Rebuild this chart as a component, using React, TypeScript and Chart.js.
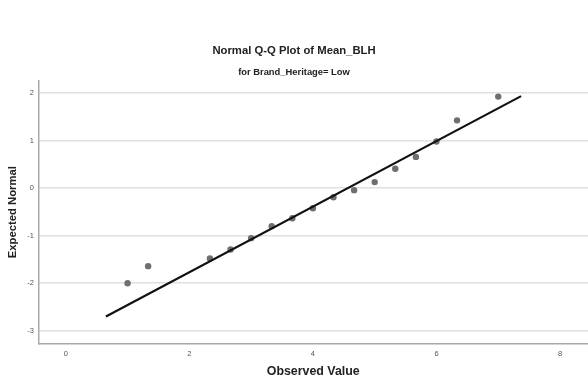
import React, { useEffect, useRef } from "react";
import { Chart, registerables } from "chart.js";

Chart.register(...registerables);

// Observed values of Mean_BLH (Brand_Heritage = Low) and their expected normal scores
const observedValues = [1, 1.333, 2.333, 2.667, 3, 3.333, 3.667, 4, 4.333, 4.667, 5, 5.333, 5.667, 6, 6.333, 7];
const expectedNormal = [-2.0, -1.64, -1.48, -1.29, -1.05, -0.8, -0.63, -0.42, -0.19, -0.04, 0.13, 0.41, 0.66, 0.985, 1.43, 1.93];

// Reference line end points
const refLineX = [0.65, 7.37];
const refLineY = [-2.7, 1.94];

const xTicks = [0, 2, 4, 6, 8];
const yTicks = [-3, -2, -1, 0, 1, 2];

const FONT = "'Liberation Sans', Arial, sans-serif";

export default function App() {
  const canvasRef = useRef<HTMLCanvasElement | null>(null);

  useEffect(() => {
    const canvas = canvasRef.current;
    if (!canvas) return;

    const points = observedValues.map((x, i) => ({ x, y: expectedNormal[i] }));
    const line = refLineX.map((x, i) => ({ x, y: refLineY[i] }));

    const chart = new Chart(canvas, {
      type: "scatter",
      data: {
        datasets: [
          {
            type: "line",
            data: line,
            borderColor: "#111111",
            borderWidth: 2.2,
            pointRadius: 0,
            fill: false,
            order: 0,
          },
          {
            type: "scatter",
            data: points,
            backgroundColor: "#6f6f6f",
            borderColor: "#6f6f6f",
            borderWidth: 0,
            pointRadius: 3.2,
            order: 1,
          },
        ],
      },
      options: {
        responsive: false,
        animation: false,
        layout: { autoPadding: false, padding: { left: 0, right: 0, top: 0, bottom: 0 } },
        plugins: {
          legend: { display: false },
          tooltip: { enabled: false },
          title: {
            display: true,
            text: "Normal Q-Q Plot of Mean_BLH",
            color: "#222222",
            font: { family: FONT, size: 11.3, weight: "bold" },
            padding: { top: 44.5, bottom: 0 },
          },
          subtitle: {
            display: true,
            text: "for Brand_Heritage= Low",
            color: "#222222",
            font: { family: FONT, size: 9.4, weight: "bold" },
            padding: { top: 8.5, bottom: 2.5 },
          },
        },
        scales: {
          x: {
            type: "linear",
            min: -0.442,
            max: 8.453,
            afterFit: (scale: any) => {
              scale.height = 36;
              scale.paddingLeft = 0;
              scale.paddingRight = 0;
            },
            afterBuildTicks: (scale: any) => {
              scale.ticks = xTicks.map((v) => ({ value: v }));
            },
            grid: { display: false, drawTicks: false },
            border: { display: true, color: "#a9a9a9", width: 1.5 },
            ticks: {
              color: "#555555",
              font: { family: FONT, size: 7.5 },
              padding: 5,
              maxRotation: 0,
            },
            title: {
              display: true,
              text: "Observed Value",
              color: "#222222",
              font: { family: FONT, size: 12.4, weight: "bold" },
              padding: { top: 0, bottom: 0.5 },
            },
          },
          y: {
            type: "linear",
            min: -3.279,
            max: 2.272,
            afterFit: (scale: any) => {
              scale.width = 38.5;
              scale.paddingTop = 0;
              scale.paddingBottom = 0;
            },
            afterBuildTicks: (scale: any) => {
              scale.ticks = yTicks.map((v) => ({ value: v }));
            },
            grid: { color: "#e0e0e0", lineWidth: 1.6, drawTicks: false },
            border: { display: true, color: "#a9a9a9", width: 1.5 },
            ticks: {
              color: "#555555",
              font: { family: FONT, size: 7.5 },
              padding: 4.5,
            },
            title: {
              display: true,
              text: "Expected Normal",
              color: "#222222",
              font: { family: FONT, size: 11.3, weight: "bold" },
              padding: { top: 6, bottom: 0 },
            },
          },
        },
      },
    });

    return () => {
      chart.destroy();
    };
  }, []);

  return (
    <div style={{ position: "absolute", left: 0, top: 0, width: 588, height: 380, background: "#ffffff" }}>
      <canvas ref={canvasRef} width={588} height={380} style={{ display: "block" }} />
    </div>
  );
}
